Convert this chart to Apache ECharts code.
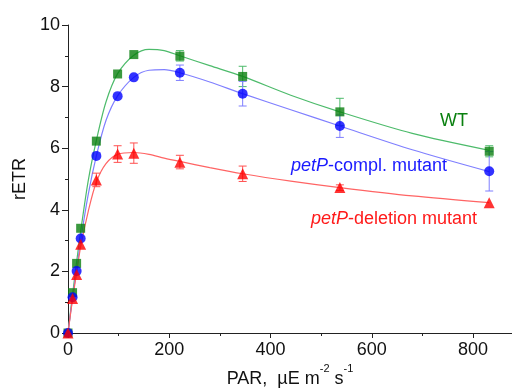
<!DOCTYPE html>
<html>
<head>
<meta charset="utf-8">
<script src="https://cdn.jsdelivr.net/npm/echarts@6/dist/echarts.min.js"></script>
<style>
  html, body { margin: 0; padding: 0; background: #fff; }
  #main { width: 512px; height: 388px; }
</style>
</head>
<body>
<div id="main"></div>
<script>
// measured points
const par = [0, 9, 17, 25, 56, 98, 130, 221, 345, 537, 832];
const wt = [0, 1.31, 2.26, 3.40, 6.23, 8.41, 9.04, 8.99, 8.33, 7.18, 5.90];
const compl = [0, 1.16, 2.01, 3.07, 5.75, 7.69, 8.30, 8.45, 7.77, 6.72, 5.25];
const deletion = [0, 1.12, 1.90, 2.88, 4.97, 5.81, 5.84, 5.54, 5.17, 4.72, 4.23];

// fitted curves
const fitX = [0, 9, 17, 25, 40, 56, 75, 98, 130, 160, 190, 221, 280, 345, 440, 537, 680, 832];
const wtFit = [0, 1.25, 2.3, 3.3, 4.95, 6.25, 7.5, 8.42, 9.02, 9.21, 9.17, 9.0, 8.68, 8.33, 7.72, 7.18, 6.48, 5.93];
const complFit = [0, 1.15, 2.05, 3.0, 4.5, 5.75, 6.9, 7.7, 8.3, 8.53, 8.55, 8.45, 8.15, 7.77, 7.25, 6.72, 5.95, 5.24];
const deletionFit = [0, 1.1, 1.95, 2.8, 3.95, 4.9, 5.5, 5.8, 5.86, 5.8, 5.68, 5.57, 5.37, 5.17, 4.93, 4.72, 4.45, 4.23];

// error bars [PAR, low, high]
const wtErr = [[221, 8.83, 9.17], [345, 8.0, 8.66], [537, 6.74, 7.62], [832, 5.72, 6.08]];
const complErr = [[221, 8.2, 8.7], [345, 7.37, 8.17], [537, 6.35, 7.08], [832, 4.61, 5.89]];
const deletionErr = [[56, 4.75, 5.19], [98, 5.54, 6.08], [130, 5.51, 6.17], [221, 5.33, 5.77], [345, 4.92, 5.42], [537, 4.63, 4.81]];

const xMajor = [0, 200, 400, 600, 800];
const xMinor = [100, 300, 500, 700];

const font = "'Liberation Sans', Arial, sans-serif";
const axisColor = '#222';

const myChart = echarts.init(document.getElementById('main'));

const zip = (xs, ys) => xs.map((x, i) => [x, ys[i]]);

function errSeries(data, color) {
    return {
        type: 'custom',
        data: data,
        encode: { x: 0, y: [1, 2] },
        z: 3,
        clip: false,
        renderItem: function (params, api) {
            const x = api.value(0);
            const top = api.coord([x, api.value(2)]);
            const bot = api.coord([x, api.value(1)]);
            const w = 4;
            const st = { stroke: color, lineWidth: 1 };
            return {
                type: 'group',
                children: [
                    { type: 'line', shape: { x1: top[0], y1: top[1], x2: bot[0], y2: bot[1] }, style: st },
                    { type: 'line', shape: { x1: top[0] - w, y1: top[1], x2: top[0] + w, y2: top[1] }, style: st },
                    { type: 'line', shape: { x1: bot[0] - w, y1: bot[1], x2: bot[0] + w, y2: bot[1] }, style: st }
                ]
            };
        }
    };
}

function fitSeries(xs, ys, color) {
    return {
        type: 'line',
        data: zip(xs, ys),
        smooth: 0.3,
        symbol: 'none',
        z: 2,
        lineStyle: { color: color, width: 1.2 },
        silent: true
    };
}

function pointSeries(xs, ys, symbol, size, color) {
    return {
        type: 'scatter',
        data: zip(xs, ys),
        symbol: symbol,
        symbolSize: size,
        itemStyle: { color: color },
        z: 5,
        clip: false
    };
}

const option = {
    animation: false,
    grid: { left: 68, right: 0, top: 25, bottom: 55, outerBoundsMode: 'none' },
    xAxis: [{
        type: 'value',
        min: 0,
        max: 877,
        name: '{a|PAR,  µE m}{s|-2}{a| s}{s|-1}',
        nameLocation: 'middle',
        nameGap: 29,
        nameTextStyle: {
            rich: {
                a: { fontSize: 18, fontFamily: font, color: '#111', verticalAlign: 'bottom' },
                s: { fontSize: 11, fontFamily: font, color: '#111', verticalAlign: 'bottom', padding: [0, 0, 13, 0] }
            }
        },
        splitLine: { show: false },
        axisLine: { lineStyle: { color: axisColor, width: 1 } },
        axisTick: { customValues: xMajor, length: 5, lineStyle: { color: axisColor } },
        axisLabel: { customValues: xMajor, fontSize: 18, fontFamily: font, color: '#111', margin: 8 }
    }, {
        type: 'value',
        min: 0,
        max: 877,
        position: 'bottom',
        axisLine: { show: false },
        splitLine: { show: false },
        axisLabel: { show: false },
        axisTick: { customValues: xMinor, length: 3, lineStyle: { color: axisColor } }
    }],
    yAxis: {
        type: 'value',
        min: 0,
        max: 10,
        interval: 2,
        name: 'rETR',
        nameLocation: 'middle',
        nameGap: 38,
        nameTextStyle: { fontSize: 18, fontFamily: font, color: '#111' },
        splitLine: { show: false },
        axisLine: { show: true, lineStyle: { color: axisColor, width: 1 } },
        axisTick: { show: true, length: 6, lineStyle: { color: axisColor } },
        minorTick: { show: true, splitNumber: 2, length: 3, lineStyle: { color: axisColor } },
        axisLabel: { fontSize: 18, fontFamily: font, color: '#111', margin: 8 }
    },
    series: [
        fitSeries(fitX, wtFit, '#4dbb6b'),
        fitSeries(fitX, complFit, '#7f7fff'),
        fitSeries(fitX, deletionFit, '#ff6464'),
        errSeries(wtErr, '#4dbb6b'),
        errSeries(complErr, '#7f7fff'),
        errSeries(deletionErr, '#ff5050'),
        pointSeries(par, wt, 'rect', 9, '#0a800f'),
        pointSeries(par, compl, 'circle', 10, '#0000ff'),
        pointSeries(par, deletion, 'triangle', 11, '#ff0000')
    ],
    graphic: [
        {
            type: 'text', left: 440, top: 112,
            style: { text: 'WT', fill: '#0a800f', fontSize: 18, fontFamily: font }
        },
        {
            type: 'text', left: 291, top: 157,
            style: {
                text: '{i|petP}{n|-compl. mutant}',
                rich: {
                    i: { fill: '#1a1aff', fontSize: 18, fontFamily: font, fontStyle: 'italic' },
                    n: { fill: '#1a1aff', fontSize: 18, fontFamily: font }
                }
            }
        },
        {
            type: 'text', left: 311, top: 210,
            style: {
                text: '{i|petP}{n|-deletion mutant}',
                rich: {
                    i: { fill: '#ff1a1a', fontSize: 18, fontFamily: font, fontStyle: 'italic' },
                    n: { fill: '#ff1a1a', fontSize: 18, fontFamily: font }
                }
            }
        }
    ]
};

myChart.setOption(option);
</script>
</body>
</html>
